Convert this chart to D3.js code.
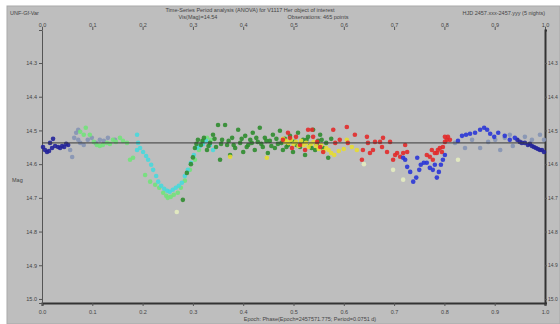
<!DOCTYPE html>
<html>
<head>
<meta charset="utf-8">
<script src="https://cdn.jsdelivr.net/npm/d3@7"></script>
<style>
  body { margin: 0; background: #fff; }
  svg { display: block; font-family: 'Liberation Sans', Arial, sans-serif; }
</style>
</head>
<body>
<svg id="chart" width="560" height="324"></svg>
<script>
// phase ticks and magnitude ticks
const phaseTicks = [0, 0.1, 0.2, 0.3, 0.4, 0.5, 0.6, 0.7, 0.8, 0.9, 1.0];
const magTicks = [14.3, 14.4, 14.5, 14.6, 14.7, 14.8, 14.9, 15.0];
const meanMag = 14.537;

// each night: [phase, magnitude]
const nightSlate = [[0.056,14.558],[0.060,14.579],[0.064,14.522],[0.068,14.507],[0.072,14.498],[0.072,14.528],[0.076,14.537],[0.083,14.543],[0.091,14.528],[0.099,14.522],[0.107,14.537],[0.115,14.528],[0.123,14.531],[0.131,14.522],[0.145,14.528],
  [0.821,14.537],[0.841,14.552],[0.855,14.528],[0.871,14.552],[0.887,14.534],[0.901,14.528],[0.911,14.558],[0.920,14.522],[0.930,14.513],[0.936,14.546],[0.960,14.519],[0.974,14.528],[0.990,14.513],[0.998,14.528]];
const nightNavy = [[0.002,14.549],[0.006,14.558],[0.010,14.564],[0.014,14.561],[0.016,14.537],[0.020,14.552],[0.022,14.525],[0.026,14.546],[0.032,14.549],[0.036,14.552],[0.040,14.546],[0.044,14.549],[0.048,14.540],[0.052,14.543],
  [0.945,14.528],[0.950,14.534],[0.954,14.537],[0.960,14.537],[0.966,14.543],[0.970,14.540],[0.974,14.546],[0.978,14.549],[0.982,14.552],[0.986,14.555],[0.990,14.558],[0.994,14.558],[0.998,14.564]];
const nightLightGreen = [[0.076,14.504],[0.083,14.513],[0.087,14.492],[0.095,14.513],[0.103,14.534],[0.109,14.543],[0.115,14.546],[0.121,14.543],[0.129,14.537],[0.135,14.540],[0.141,14.528],[0.147,14.534],[0.155,14.522],[0.161,14.531],[0.169,14.537],[0.175,14.587],[0.181,14.581],
  [0.205,14.632],[0.215,14.652],[0.225,14.661],[0.233,14.670],[0.241,14.685],[0.247,14.694],[0.250,14.700],[0.256,14.697],[0.262,14.691],[0.270,14.685],[0.276,14.670],[0.284,14.649],[0.294,14.617],[0.304,14.587],[0.312,14.558],[0.320,14.534],[0.328,14.522],[0.336,14.528]];
const nightCyan = [[0.189,14.513],[0.191,14.537],[0.189,14.558],[0.195,14.552],[0.201,14.564],[0.207,14.576],[0.211,14.587],[0.217,14.602],[0.221,14.617],[0.227,14.635],[0.231,14.652],[0.237,14.664],[0.243,14.673],[0.249,14.679],[0.254,14.682],[0.260,14.676],[0.266,14.670],[0.272,14.664],[0.278,14.655],[0.284,14.635],[0.290,14.617],[0.296,14.596],[0.302,14.573],[0.308,14.552],[0.314,14.546],[0.320,14.540],[0.326,14.531],[0.334,14.543],[0.340,14.558]];
const nightGreen = [[0.280,14.706],[0.288,14.626],[0.296,14.600],[0.300,14.580],
  [0.304,14.552],[0.310,14.528],[0.316,14.543],[0.322,14.522],[0.328,14.558],[0.334,14.537],[0.340,14.513],[0.346,14.549],[0.350,14.484],[0.354,14.587],[0.358,14.528],[0.364,14.484],[0.368,14.543],[0.374,14.573],[0.378,14.522],[0.384,14.552],[0.390,14.498],[0.394,14.537],[0.400,14.564],[0.404,14.516],[0.410,14.543],[0.414,14.528],[0.419,14.507],[0.423,14.558],[0.429,14.534],[0.433,14.492],[0.439,14.549],[0.443,14.522],[0.449,14.567],[0.453,14.531],[0.459,14.513],[0.463,14.552],[0.469,14.540],[0.473,14.501],[0.479,14.558],[0.483,14.525],[0.489,14.543],[0.493,14.516],[0.499,14.564],[0.503,14.534],[0.509,14.507],[0.513,14.549],[0.519,14.528],[0.523,14.573],[0.529,14.519],[0.533,14.546],[0.539,14.498],[0.543,14.558],[0.549,14.531],[0.553,14.513],[0.559,14.552],[0.565,14.537],[0.569,14.581],[0.575,14.525],
  [0.307,14.540],[0.319,14.531],[0.331,14.546],[0.343,14.525],[0.356,14.540],[0.371,14.531],[0.381,14.543],[0.397,14.525],[0.407,14.549],[0.417,14.537],[0.426,14.522],[0.436,14.540],[0.446,14.531],[0.456,14.546],[0.466,14.525],[0.476,14.537],[0.486,14.549],[0.496,14.531],[0.506,14.543],[0.516,14.537],[0.526,14.528],[0.536,14.552],[0.546,14.540],[0.556,14.528]];
const nightYellow = [[0.374,14.578],[0.447,14.581],[0.479,14.525],[0.483,14.534],[0.485,14.531],[0.490,14.537],[0.495,14.528],[0.500,14.540],[0.505,14.534],[0.510,14.546],[0.515,14.531],[0.520,14.543],[0.525,14.537],[0.530,14.549],[0.535,14.540],[0.540,14.534],[0.545,14.546],[0.550,14.555],[0.555,14.543],[0.560,14.561],[0.565,14.552],[0.570,14.558],[0.575,14.567],[0.581,14.573],[0.590,14.561],[0.600,14.555],[0.606,14.528],[0.616,14.549],[0.626,14.558]];
const nightRed = [[0.479,14.528],[0.489,14.507],[0.493,14.522],[0.497,14.552],[0.505,14.519],[0.513,14.543],[0.523,14.558],[0.529,14.498],[0.537,14.498],[0.539,14.519],[0.547,14.534],[0.553,14.549],[0.559,14.564],[0.579,14.498],[0.583,14.537],[0.592,14.528],[0.606,14.490],[0.608,14.537],[0.622,14.513],[0.636,14.587],[0.638,14.558],[0.646,14.519],[0.648,14.537],[0.652,14.567],[0.658,14.558],[0.662,14.534],[0.672,14.534],[0.676,14.549],[0.678,14.522],[0.686,14.564],[0.692,14.534],[0.698,14.587],[0.702,14.573],[0.706,14.567],[0.712,14.578],[0.718,14.567],[0.722,14.543],[0.726,14.564],
  [0.765,14.573],[0.771,14.578],[0.775,14.558],[0.777,14.587],[0.781,14.567],[0.785,14.567],[0.787,14.558],[0.791,14.552],[0.795,14.564],[0.797,14.549],[0.801,14.534],[0.801,14.519],[0.805,14.528],[0.807,14.519],[0.811,14.528]];
const nightBlue = [[0.718,14.581],[0.722,14.587],[0.726,14.608],[0.732,14.623],[0.738,14.652],[0.744,14.640],[0.746,14.581],[0.750,14.617],[0.753,14.602],[0.759,14.596],[0.765,14.596],[0.771,14.611],[0.777,14.617],[0.781,14.602],[0.785,14.640],[0.789,14.623],[0.793,14.602],[0.797,14.587],[0.801,14.573],
  [0.827,14.531],[0.835,14.516],[0.843,14.513],[0.851,14.510],[0.861,14.507],[0.871,14.498],[0.879,14.492],[0.885,14.498],[0.891,14.510],[0.899,14.519],[0.907,14.507],[0.920,14.516],[0.930,14.528],[0.940,14.522]];
const nightPale = [[0.268,14.742],[0.698,14.617],[0.718,14.646],[0.827,14.587],[0.640,14.600]];

const nights = [
  { data: nightSlate, color: '#8594b4' },
  { data: nightNavy, color: '#23239a' },
  { data: nightLightGreen, color: '#72e27a' },
  { data: nightCyan, color: '#48d8dc' },
  { data: nightGreen, color: '#2f8c2f' },
  { data: nightYellow, color: '#e6dc32' },
  { data: nightRed, color: '#e22a2a' },
  { data: nightBlue, color: '#2a36d6' },
  { data: nightPale, color: '#e4ecc0' },
];

const svg = d3.select('#chart');
const plotLeft = 42, plotRight = 545, plotTop = 30, plotBottom = 303;

svg.append('rect').attr('x', 7).attr('y', 6).attr('width', 553).attr('height', 318)
  .attr('fill', '#bebebe').attr('stroke', '#a9a9a9');

const x = d3.scaleLinear().domain([0, 1]).range([plotLeft, plotRight]);
const y = d3.scaleLinear().domain([14.202, 15.012]).range([plotTop, plotBottom]);

const fmt = d3.format('.1f');

// axes
const axisStyle = (g) => {
  g.selectAll('text').attr('font-size', 5.5).attr('fill', '#444');
  g.selectAll('line').attr('stroke', '#555');
};

svg.append('g').attr('transform', `translate(0,${plotBottom})`)
  .call(d3.axisBottom(x).tickValues(phaseTicks).tickFormat(fmt).tickSize(3).tickPadding(4))
  .call(axisStyle)
  .call((g) => g.select('.domain').attr('stroke', '#333').attr('stroke-width', 2));

svg.append('g').attr('transform', `translate(0,${plotTop})`)
  .call(d3.axisTop(x).tickValues(phaseTicks).tickFormat(fmt).tickSize(3).tickPadding(0))
  .call(axisStyle)
  .call((g) => g.select('.domain').remove());

svg.append('g').attr('transform', `translate(${plotLeft},0)`)
  .call(d3.axisLeft(y).tickValues(magTicks).tickFormat(fmt).tickSize(3).tickPadding(2))
  .call(axisStyle)
  .call((g) => g.select('.domain').attr('stroke', '#555'));

svg.append('g').attr('transform', `translate(${plotRight},0)`)
  .call(d3.axisRight(y).tickValues(magTicks).tickFormat(fmt).tickSize(2).tickPadding(1))
  .call(axisStyle)
  .call((g) => g.selectAll('text').attr('font-size', 5))
  .call((g) => g.select('.domain').attr('stroke', '#333').attr('stroke-width', 2));

// points
nights.forEach((n) => {
  svg.append('g').selectAll('circle').data(n.data).join('circle')
    .attr('cx', (d) => x(d[0]))
    .attr('cy', (d) => y(d[1]))
    .attr('r', 2.3)
    .attr('fill', n.color)
    .attr('opacity', 0.9);
});

// mean line
svg.append('line').attr('x1', plotLeft).attr('x2', plotRight)
  .attr('y1', y(meanMag)).attr('y2', y(meanMag))
  .attr('stroke', '#3a3a3a').attr('stroke-width', 1);

// texts
const txt = (tx, ty, s, anchor) => svg.append('text').attr('x', tx).attr('y', ty)
  .attr('font-size', 5.5).attr('fill', '#444').attr('text-anchor', anchor || 'start').text(s);

txt(10, 15, 'UNF-Gf-Var');
txt(250, 12, 'Time-Series Period analysis (ANOVA) for V1117 Her object of interest', 'middle');
txt(198, 19, 'Vis(Mag)=14.54', 'middle');
txt(318, 19, 'Observations: 465 points', 'middle');
txt(545, 15, 'HJD 2457.xxx-2457.yyy (5 nights)', 'end');
txt(12, 182, 'Mag');
txt(310, 321, 'Epoch: Phase(Epoch=2457571.775; Period=0.0751 d)', 'middle');
</script>
</body>
</html>
